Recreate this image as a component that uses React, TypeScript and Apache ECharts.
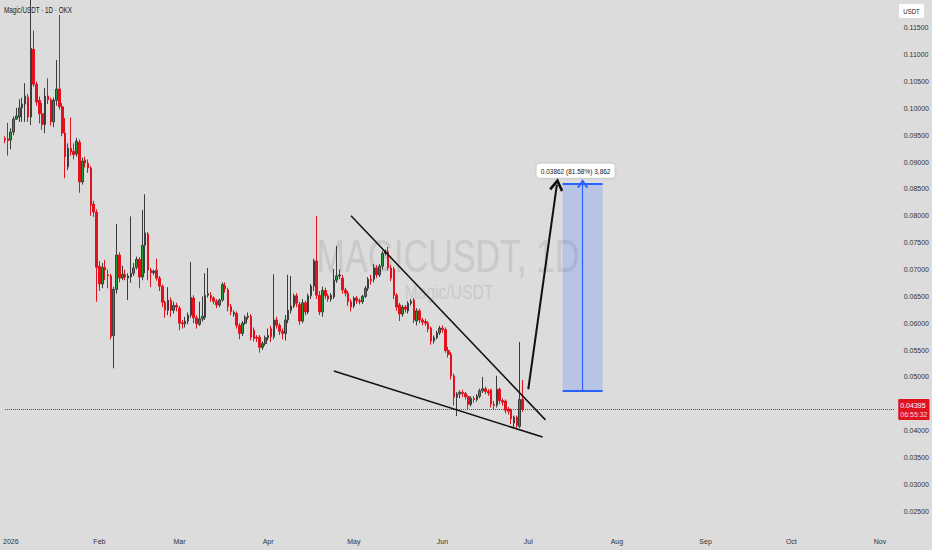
import { useEffect, useRef } from 'react';
import * as echarts from 'echarts';

const FONT = "'Liberation Sans', 'DejaVu Sans', sans-serif";

// daily categories from 30 Dec 2025, the axis runs on into November
const startDay = Date.UTC(2025, 11, 30);
const dayCount = 312;
const categories = Array.from({ length: dayCount }, (_, i) =>
  new Date(startDay + i * 86400000).toISOString().slice(0, 10)
);
const monthLabels = ['2026', 'Feb', 'Mar', 'Apr', 'May', 'Jun', 'Jul', 'Aug', 'Sep', 'Oct', 'Nov', 'Dec'];

// [open, close, low, high]
const candlesJan = [
  [0.0944, 0.0941, 0.0935, 0.0948], [0.0943, 0.0940, 0.0912, 0.0973], [0.0941, 0.0956, 0.0924, 0.0963],
  [0.0956, 0.0980, 0.0950, 0.0985], [0.0980, 0.0986, 0.0979, 0.1001], [0.0984, 0.1001, 0.0975, 0.1017],
  [0.1001, 0.1008, 0.0975, 0.1020], [0.1008, 0.1023, 0.0975, 0.1047], [0.1021, 0.0984, 0.0975, 0.1027],
  [0.0984, 0.1112, 0.0969, 0.1210], [0.1110, 0.1045, 0.1040, 0.1145], [0.1045, 0.1012, 0.1005, 0.1050],
  [0.1015, 0.0990, 0.0972, 0.1022], [0.0990, 0.0970, 0.0960, 0.1010], [0.0970, 0.1023, 0.0954, 0.1038],
  [0.1023, 0.1016, 0.1008, 0.1056], [0.1016, 0.0975, 0.0968, 0.1020], [0.0975, 0.1015, 0.0965, 0.1020],
  [0.1015, 0.1036, 0.1005, 0.1090], [0.1036, 0.1003, 0.0998, 0.1174], [0.1003, 0.0954, 0.0948, 0.1010],
  [0.0954, 0.0910, 0.0870, 0.0982], [0.0891, 0.0926, 0.0885, 0.0935], [0.0926, 0.0919, 0.0912, 0.0983],
  [0.0920, 0.0914, 0.0905, 0.0935], [0.0915, 0.0939, 0.0910, 0.0945], [0.0937, 0.0863, 0.0843, 0.0942],
  [0.0863, 0.0902, 0.0858, 0.0908], [0.0904, 0.0898, 0.0890, 0.0910], [0.0898, 0.0889, 0.0880, 0.0905],
  [0.0889, 0.0820, 0.0800, 0.0893], [0.0822, 0.0807, 0.0798, 0.0828], [0.0807, 0.0704, 0.0640, 0.0812],
];
const candlesFeb = [
  [0.0706, 0.0673, 0.0660, 0.0716], [0.0673, 0.0704, 0.0665, 0.0712], [0.0704, 0.0699, 0.0680, 0.0718],
  [0.0690, 0.0688, 0.0665, 0.0700], [0.0688, 0.0575, 0.0570, 0.0692], [0.0577, 0.0663, 0.0516, 0.0668],
  [0.0663, 0.0727, 0.0655, 0.0785], [0.0727, 0.0684, 0.0676, 0.0732], [0.0684, 0.0691, 0.0680, 0.0707],
  [0.0691, 0.0686, 0.0680, 0.0700], [0.0684, 0.0688, 0.0643, 0.0693], [0.0686, 0.0693, 0.0675, 0.0799],
  [0.0693, 0.0703, 0.0688, 0.0712], [0.0704, 0.0719, 0.0700, 0.0724], [0.0719, 0.0686, 0.0665, 0.0723],
  [0.0686, 0.0745, 0.0680, 0.0811], [0.0745, 0.0768, 0.0693, 0.0840], [0.0766, 0.0699, 0.0680, 0.0770],
  [0.0699, 0.0694, 0.0667, 0.0703], [0.0694, 0.0697, 0.0690, 0.0700], [0.0699, 0.0684, 0.0679, 0.0720],
  [0.0684, 0.0669, 0.0660, 0.0688], [0.0669, 0.0639, 0.0630, 0.0672], [0.0639, 0.0624, 0.0610, 0.0642],
  [0.0624, 0.0643, 0.0615, 0.0667], [0.0643, 0.0624, 0.0612, 0.0648], [0.0624, 0.0633, 0.0618, 0.0640],
  [0.0633, 0.0630, 0.0622, 0.0638],
];
const candlesMar = [
  [0.0628, 0.0600, 0.0587, 0.0632], [0.0601, 0.0599, 0.0590, 0.0606], [0.0599, 0.0604, 0.0592, 0.0612],
  [0.0604, 0.0615, 0.0598, 0.0620], [0.0615, 0.0648, 0.0610, 0.0714], [0.0647, 0.0610, 0.0600, 0.0652],
  [0.0610, 0.0599, 0.0590, 0.0615], [0.0598, 0.0608, 0.0595, 0.0640], [0.0608, 0.0613, 0.0603, 0.0650],
  [0.0611, 0.0652, 0.0606, 0.0693], [0.0652, 0.0655, 0.0648, 0.0703], [0.0652, 0.0647, 0.0640, 0.0658],
  [0.0647, 0.0641, 0.0635, 0.0650], [0.0641, 0.0634, 0.0628, 0.0645], [0.0634, 0.0643, 0.0630, 0.0646],
  [0.0643, 0.0672, 0.0640, 0.0676], [0.0670, 0.0664, 0.0657, 0.0676], [0.0662, 0.0631, 0.0622, 0.0666],
  [0.0631, 0.0622, 0.0615, 0.0636], [0.0617, 0.0620, 0.0612, 0.0624], [0.0618, 0.0596, 0.0590, 0.0622],
  [0.0596, 0.0581, 0.0570, 0.0600], [0.0581, 0.0600, 0.0576, 0.0604], [0.0600, 0.0611, 0.0597, 0.0615],
  [0.0611, 0.0613, 0.0607, 0.0620], [0.0613, 0.0574, 0.0568, 0.0617], [0.0587, 0.0572, 0.0566, 0.0592],
  [0.0574, 0.0572, 0.0565, 0.0578], [0.0574, 0.0555, 0.0545, 0.0578], [0.0555, 0.0562, 0.0550, 0.0566],
  [0.0562, 0.0573, 0.0558, 0.0577],
];
const candlesApr = [
  [0.0573, 0.0577, 0.0568, 0.0590], [0.0590, 0.0575, 0.0565, 0.0595], [0.0575, 0.0606, 0.0570, 0.0691],
  [0.0606, 0.0596, 0.0590, 0.0612], [0.0596, 0.0585, 0.0578, 0.0600], [0.0585, 0.0581, 0.0570, 0.0590],
  [0.0581, 0.0606, 0.0568, 0.0615], [0.0606, 0.0624, 0.0600, 0.0690], [0.0624, 0.0632, 0.0618, 0.0688],
  [0.0632, 0.0651, 0.0628, 0.0655], [0.0651, 0.0637, 0.0630, 0.0656], [0.0635, 0.0604, 0.0597, 0.0640],
  [0.0604, 0.0638, 0.0600, 0.0645], [0.0638, 0.0621, 0.0615, 0.0642], [0.0621, 0.0651, 0.0617, 0.0655],
  [0.0651, 0.0669, 0.0645, 0.0673], [0.0669, 0.0716, 0.0660, 0.0720], [0.0716, 0.0652, 0.0645, 0.0800],
  [0.0652, 0.0621, 0.0615, 0.0660], [0.0621, 0.0661, 0.0612, 0.0668], [0.0661, 0.0651, 0.0645, 0.0666],
  [0.0651, 0.0645, 0.0640, 0.0655], [0.0645, 0.0652, 0.0640, 0.0656], [0.0649, 0.0680, 0.0645, 0.0701],
  [0.0680, 0.0688, 0.0675, 0.0744], [0.0688, 0.0690, 0.0682, 0.0700], [0.0684, 0.0662, 0.0655, 0.0690],
  [0.0662, 0.0656, 0.0650, 0.0666], [0.0656, 0.0640, 0.0632, 0.0660], [0.0640, 0.0630, 0.0622, 0.0645],
];
const candlesMay = [
  [0.0632, 0.0647, 0.0628, 0.0650], [0.0647, 0.0642, 0.0636, 0.0651], [0.0642, 0.0640, 0.0635, 0.0646],
  [0.0640, 0.0650, 0.0636, 0.0653], [0.0650, 0.0665, 0.0647, 0.0669], [0.0665, 0.0682, 0.0660, 0.0686],
  [0.0682, 0.0679, 0.0672, 0.0690], [0.0682, 0.0703, 0.0676, 0.0710], [0.0703, 0.0690, 0.0684, 0.0708],
  [0.0690, 0.0706, 0.0686, 0.0710], [0.0706, 0.0730, 0.0700, 0.0735], [0.0730, 0.0733, 0.0726, 0.0737],
  [0.0733, 0.0703, 0.0698, 0.0742], [0.0703, 0.0684, 0.0678, 0.0708], [0.0701, 0.0652, 0.0645, 0.0705],
  [0.0652, 0.0630, 0.0623, 0.0656], [0.0634, 0.0617, 0.0604, 0.0638], [0.0617, 0.0630, 0.0612, 0.0634],
  [0.0630, 0.0626, 0.0620, 0.0634], [0.0623, 0.0637, 0.0618, 0.0641], [0.0637, 0.0641, 0.0633, 0.0645],
  [0.0643, 0.0606, 0.0600, 0.0647], [0.0604, 0.0623, 0.0596, 0.0628], [0.0623, 0.0606, 0.0600, 0.0627],
  [0.0606, 0.0602, 0.0596, 0.0610], [0.0603, 0.0600, 0.0595, 0.0608], [0.0600, 0.0589, 0.0583, 0.0604],
  [0.0591, 0.0567, 0.0560, 0.0594], [0.0567, 0.0573, 0.0562, 0.0577], [0.0573, 0.0582, 0.0570, 0.0586],
  [0.0582, 0.0591, 0.0578, 0.0595],
];
const candlesJun = [
  [0.0591, 0.0588, 0.0582, 0.0596], [0.0588, 0.0549, 0.0545, 0.0592], [0.0549, 0.0542, 0.0536, 0.0556],
  [0.0542, 0.0502, 0.0495, 0.0546], [0.0502, 0.0462, 0.0447, 0.0506], [0.0462, 0.0468, 0.0427, 0.0472],
  [0.0468, 0.0471, 0.0460, 0.0475], [0.0471, 0.0469, 0.0462, 0.0476], [0.0469, 0.0463, 0.0458, 0.0472],
  [0.0463, 0.0449, 0.0440, 0.0466], [0.0449, 0.0460, 0.0445, 0.0464], [0.0460, 0.0458, 0.0452, 0.0464],
  [0.0458, 0.0464, 0.0454, 0.0468], [0.0464, 0.0474, 0.0460, 0.0478], [0.0474, 0.0478, 0.0470, 0.0500],
  [0.0478, 0.0473, 0.0468, 0.0482], [0.0473, 0.0470, 0.0465, 0.0477], [0.0476, 0.0449, 0.0443, 0.0478],
  [0.0449, 0.0447, 0.0440, 0.0455], [0.0447, 0.0477, 0.0443, 0.0502], [0.0477, 0.0456, 0.0450, 0.0480],
  [0.0456, 0.0453, 0.0447, 0.0460], [0.0455, 0.0438, 0.0432, 0.0458], [0.0440, 0.0436, 0.0430, 0.0444],
  [0.0438, 0.0422, 0.0412, 0.0441], [0.0414, 0.0425, 0.0404, 0.0428], [0.0425, 0.0410, 0.0404, 0.0428],
  [0.0408, 0.0458, 0.0405, 0.0565], [0.0458, 0.04395, 0.0435, 0.0494],
];
const candles = [...candlesJan, ...candlesFeb, ...candlesMar, ...candlesApr, ...candlesMay, ...candlesJun];
const lastClose = candles[candles.length - 1][1];
const countdown = '06:55:32';

// drawings: falling wedge, breakout arrow, price-range measure
const wedgeUpper = [['2026-04-30', 0.0800], ['2026-07-07', 0.0420]];
const wedgeLower = [['2026-04-24', 0.0511], ['2026-07-06', 0.0388]];
const breakoutArrow = [['2026-07-01', 0.0477], ['2026-07-11', 0.0858]];
const measureFrom = '2026-07-13';
const measureTo = '2026-07-27';
const measureMid = '2026-07-20';
const measureLow = 0.04734;
const measureHigh = 0.08596;

const chevron = 'path://M5,0 L10,8 L8.6,9.4 L5,3.6 L1.4,9.4 L0,8 Z';

const measureDiff = measureHigh - measureLow;
const measureText = `${measureDiff.toFixed(5)} (${((measureDiff / measureLow) * 100).toFixed(2)}%) ${Math.round(
  measureDiff * 1e5
).toLocaleString('en-US')}`;

const UP = '#1f9e3a';
const DOWN = '#e0121e';
const BLUE = '#2962ff';

export default function App() {
  const chartRef = useRef<HTMLDivElement>(null);

  useEffect(() => {
    if (!chartRef.current) return;
    const chart = echarts.init(chartRef.current, null, { renderer: 'svg' });

    const plain = { show: false };

    chart.setOption({
      animation: false,
      backgroundColor: '#dcdcdc',
      textStyle: { fontFamily: FONT },
      grid: { left: 0, right: 35, top: 1, bottom: 12 },
      xAxis: {
        type: 'category',
        data: categories,
        boundaryGap: true,
        axisLine: { show: false },
        axisTick: { show: false },
        splitLine: { show: false },
        axisLabel: {
          interval: (_i: number, v: string) => v.endsWith('-01'),
          formatter: (v: string) => monthLabels[Number(v.slice(5, 7)) - 1],
          color: '#333',
          fontSize: 7,
          margin: 0,
          fontFamily: FONT,
        },
      },
      yAxis: {
        type: 'value',
        position: 'right',
        min: 0.02,
        max: 0.12,
        interval: 0.005,
        axisLine: { show: false },
        axisTick: { show: false },
        splitLine: { show: false },
        axisLabel: {
          formatter: (v: number) => v.toFixed(5),
          color: '#333',
          fontSize: 7,
          margin: 8,
          showMinLabel: false,
          showMaxLabel: false,
          fontFamily: FONT,
        },
      },
      graphic: [
        {
          type: 'text',
          x: 448,
          y: 256,
          scaleX: 0.74,
          style: {
            text: 'MAGICUSDT, 1D',
            fontSize: 46,
            fontFamily: FONT,
            fill: '#c9c9c9',
            align: 'center',
            verticalAlign: 'middle',
          },
        },
        {
          type: 'text',
          x: 449,
          y: 292,
          scaleX: 0.78,
          style: {
            text: 'Magic/USDT',
            fontSize: 20,
            fontFamily: FONT,
            fill: '#c9c9c9',
            align: 'center',
            verticalAlign: 'middle',
          },
        },
        {
          type: 'text',
          x: 4,
          y: 10,
          scaleX: 0.74,
          style: {
            text: 'Magic/USDT · 1D · OKX',
            fontSize: 8.5,
            fontFamily: FONT,
            fill: '#222',
            verticalAlign: 'middle',
          },
        },
        {
          type: 'rect',
          shape: { x: 899, y: 4, width: 25, height: 14, r: 2 },
          style: { fill: '#fff' },
        },
        {
          type: 'text',
          x: 911.5,
          y: 11,
          scaleX: 0.8,
          style: {
            text: 'USDT',
            fontSize: 7.5,
            fontFamily: FONT,
            fill: '#222',
            align: 'center',
            verticalAlign: 'middle',
          },
        },
      ],
      series: [
        {
          type: 'candlestick',
          data: candles,
          barWidth: '72%',
          itemStyle: {
            color: UP,
            color0: DOWN,
            borderColor: '#3c3c3c',
            borderColor0: DOWN,
            borderWidth: 1,
          },
          markLine: {
            silent: true,
            symbol: ['none', 'none'],
            animation: false,
            data: [
              [
                {
                  coord: [categories[0], lastClose],
                  lineStyle: { color: DOWN, type: 'dotted', width: 1 },
                  label: {
                    show: true,
                    position: 'end',
                    distance: 4,
                    formatter: `{p|${lastClose.toFixed(5)}}\n{t|${countdown}}`,
                    backgroundColor: DOWN,
                    padding: [2, 2, 1, 2],
                    borderRadius: 1,
                    rich: {
                      p: { color: '#fff', fontSize: 7, lineHeight: 9, fontFamily: FONT },
                      t: { color: '#ffd6d6', fontSize: 7, lineHeight: 9, fontFamily: FONT },
                    },
                  },
                },
                { coord: [categories[categories.length - 1], lastClose] },
              ],
              [
                { coord: wedgeUpper[0], lineStyle: { color: '#111', width: 1.5, type: 'solid' }, label: plain },
                { coord: wedgeUpper[1] },
              ],
              [
                { coord: wedgeLower[0], lineStyle: { color: '#111', width: 1.5, type: 'solid' }, label: plain },
                { coord: wedgeLower[1] },
              ],
              [
                {
                  coord: breakoutArrow[0],
                  symbol: 'none',
                  lineStyle: { color: '#111', width: 2, type: 'solid' },
                  label: plain,
                },
                { coord: breakoutArrow[1], symbol: chevron, symbolSize: [14, 13] },
              ],
              [
                { coord: [measureFrom, measureHigh], lineStyle: { color: BLUE, width: 2, type: 'solid' }, label: plain },
                { coord: [measureTo, measureHigh] },
              ],
              [
                { coord: [measureFrom, measureLow], lineStyle: { color: BLUE, width: 2, type: 'solid' }, label: plain },
                { coord: [measureTo, measureLow] },
              ],
              [
                {
                  coord: [measureMid, measureLow],
                  symbol: 'none',
                  lineStyle: { color: BLUE, width: 1.2, type: 'solid' },
                  label: plain,
                },
                { coord: [measureMid, measureHigh], symbol: chevron, symbolSize: [11, 9] },
              ],
            ],
          },
          markArea: {
            silent: true,
            itemStyle: { color: 'rgba(41, 98, 255, 0.2)' },
            label: {
              show: true,
              position: 'top',
              distance: 6,
              offset: [-7, 0],
              formatter: measureText,
              color: '#131722',
              fontSize: 6.5,
              fontFamily: FONT,
              backgroundColor: '#fff',
              padding: [4, 4, 3, 4],
              borderRadius: 3,
              shadowBlur: 3,
              shadowColor: 'rgba(0,0,0,0.2)',
            },
            data: [[{ xAxis: measureFrom, yAxis: measureLow }, { xAxis: measureTo, yAxis: measureHigh }]],
          },
        },
      ],
    });

    return () => chart.dispose();
  }, []);

  return (
    <div
      ref={chartRef}
      style={{ position: 'fixed', left: 0, top: 0, width: 932, height: 550 }}
    />
  );
}
